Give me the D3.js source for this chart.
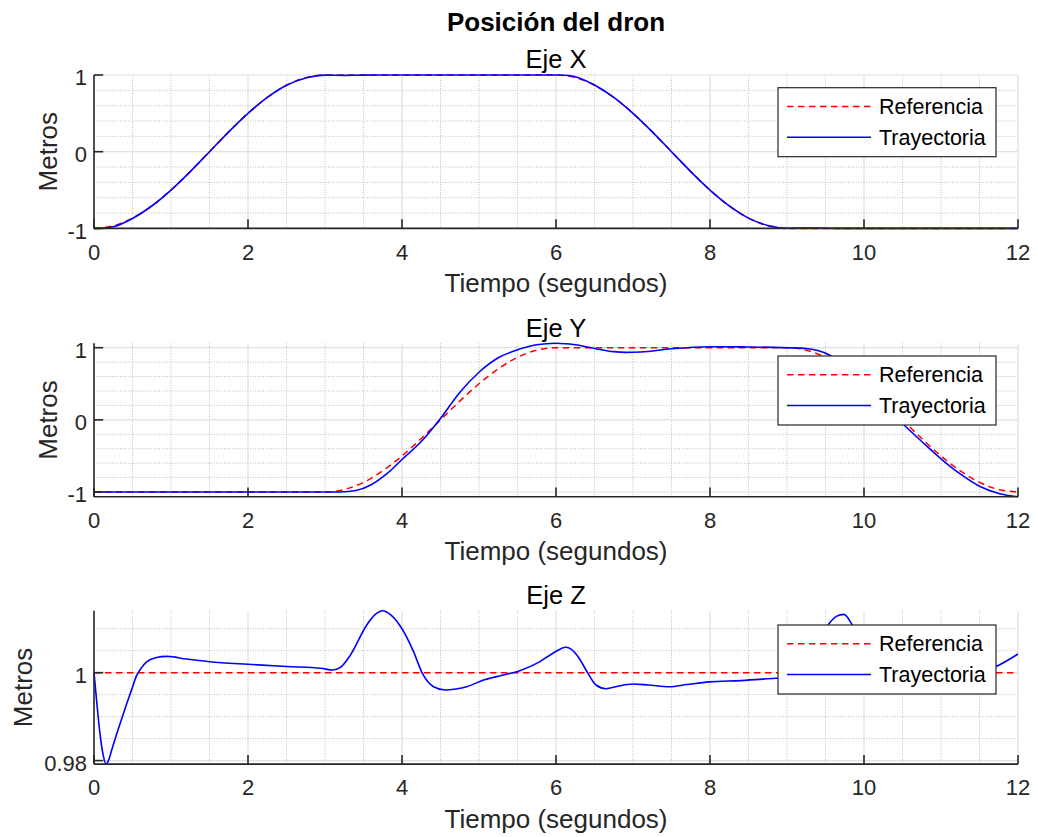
<!DOCTYPE html>
<html><head><meta charset="utf-8">
<script src="https://cdn.jsdelivr.net/npm/d3@7"></script>
<style>body{margin:0;background:#fff}text{font-family:"Liberation Sans",Arial,Helvetica,sans-serif}</style>
</head><body><svg id="c" width="1038" height="837"></svg>
<script>
// ---------- data ----------
const xTicks = [0, 2, 4, 6, 8, 10, 12];
const xTickLabels = ["0", "2", "4", "6", "8", "10", "12"];
const yTicksXY = [-1, 0, 1];
const yTickLabelsXY = ["-1", "0", "1"];
const yTicksZ = [0.98, 1];
const yTickLabelsZ = ["0.98", "1"];
const seriesNames = ["Referencia", "Trayectoria"];

// Eje X
const tRefX = [0,0.25,0.5,0.75,1,1.25,1.5,1.75,2,2.25,2.5,2.75,3,
               6,6.25,6.5,6.75,7,7.25,7.5,7.75,8,8.25,8.5,8.75,9,12];
const refX  = [-1,-0.966,-0.866,-0.707,-0.5,-0.259,0,0.259,0.5,0.707,0.866,0.966,1,
               1,0.966,0.866,0.707,0.5,0.259,0,-0.259,-0.5,-0.707,-0.866,-0.966,-1,-1];
const tTrajX = [0,0.12,0.25,0.5,0.75,1,1.25,1.5,1.75,2,2.25,2.5,2.75,3,3.25,3.5,4,
                6,6.12,6.25,6.5,6.75,7,7.25,7.5,7.75,8,8.25,8.5,8.75,9,9.25,9.5,10,12];
const trajX  = [-1,-0.997,-0.978,-0.87,-0.708,-0.5,-0.259,0,0.259,0.5,0.707,0.866,0.962,0.998,0.995,0.998,1,
                1,0.997,0.978,0.87,0.708,0.5,0.259,0,-0.259,-0.5,-0.707,-0.866,-0.962,-0.998,-0.995,-0.998,-1,-1];

// Eje Y
const tRefY = [0,3,3.25,3.5,3.75,4,4.25,4.5,4.75,5,5.25,5.5,5.75,6,
               9,9.25,9.5,9.75,10,10.25,10.5,10.75,11,11.25,11.5,11.75,12];
const refY  = [-1,-1,-0.966,-0.866,-0.707,-0.5,-0.259,0,0.259,0.5,0.707,0.866,0.966,1,
               1,0.966,0.866,0.707,0.5,0.259,0,-0.259,-0.5,-0.707,-0.866,-0.966,-1];
const tTrajY = [0,3.2,3.4,3.6,3.8,4,4.25,4.5,4.75,5,5.25,5.5,5.75,6,6.25,6.5,6.75,6.9,7.1,7.5,8,8.5,
                9,9.25,9.4,9.55,9.75,10,10.25,10.5,10.75,11,11.25,11.5,11.75,12];
const trajY  = [-1,-1,-0.98,-0.9,-0.75,-0.55,-0.3,0.02,0.38,0.66,0.86,0.97,1.04,1.061,1.04,0.99,0.945,0.935,0.94,0.985,1.013,1.01,
                1.0,0.99,0.96,0.9,0.75,0.5,0.22,-0.05,-0.3,-0.54,-0.75,-0.92,-1.02,-1.065];

// Eje Z
const tRefZ = [0, 12];
const refZ  = [1, 1];
const tTrajZ = [0,0.04,0.08,0.12,0.156,0.19,0.23,0.29,0.36,0.42,0.49,0.55,0.62,0.68,0.8,0.95,1.2,1.5,2,2.5,2.95,3.1,3.2,3.33,3.54,3.65,3.75,3.85,3.97,
                4.15,4.26,4.41,4.56,4.7,4.84,5.06,5.3,5.53,5.78,5.95,6.13,6.2,6.3,6.41,6.52,6.65,6.8,6.99,7.2,7.47,7.7,7.99,
                8.4,8.85,9.1,9.3,9.53,9.64,9.74,9.85,10,10.2,10.4,10.6,10.9,11.3,11.71,12];
const trajZ  = [1.0,0.9925,0.9858,0.9812,0.9792,0.9801,0.9824,0.9858,0.9895,0.9927,0.9962,0.9992,1.0012,1.0024,1.0034,1.0037,1.0031,1.0025,1.0019,1.0014,1.0010,1.0006,1.0012,1.0040,1.0108,1.0132,1.0141,1.0132,1.0108,
                1.0048,1.0,0.9968,0.99607,0.9963,0.9968,0.99834,0.9994,1.00045,1.0024,1.0043,1.0058,1.0053,1.0033,1.0,0.9972,0.99636,0.9969,0.99743,0.9972,0.9968,0.9973,0.9979,
                0.9982,0.99872,0.999,1.003,1.0108,1.0128,1.01327,1.0108,1.006,1.0005,0.9975,0.9968,0.9975,0.9995,1.00136,1.00425];

// ---------- layout ----------
const svg = d3.select("#c");
const L = 94, R = 1018, H = 153.4;
const panels = [
  {title:"Eje X", top:75,    tRef:tRefX, vRef:refX, tTraj:tTrajX, vTraj:trajX, yt:yTicksXY, ytl:yTickLabelsXY,
   minorY:[-0.8,-0.6,-0.4,-0.2,0.2,0.4,0.6,0.8], ylabX:57, legTop:87.7},
  {title:"Eje Y", top:343.3, tRef:tRefY, vRef:refY, tTraj:tTrajY, vTraj:trajY, yt:yTicksXY, ytl:yTickLabelsXY,
   minorY:[-0.8,-0.6,-0.4,-0.2,0.2,0.4,0.6,0.8], ylabX:57, legTop:356},
  {title:"Eje Z", top:610.7, tRef:tRefZ, vRef:refZ, tTraj:tTrajZ, vTraj:trajZ, yt:yTicksZ, ytl:yTickLabelsZ,
   minorY:[0.985,0.99,0.995,1.005,1.01], ylabX:31.7, legTop:625}
];
const axisCol = "#262626";
const xMinor = d3.range(0.5, 12, 0.5).filter(v => v % 2 !== 0);

svg.append("text").attr("x", 556).attr("y", 30.7).attr("text-anchor","middle")
  .attr("font-size", 26).attr("font-weight","bold").attr("fill","#000").text("Posición del dron");

panels.forEach(p => {
  const bottom = p.top + H;
  const x = d3.scaleLinear().domain([0, 12]).range([L, R]);
  const y = d3.scaleLinear().domain(d3.extent(p.vRef.concat(p.vTraj))).range([bottom, p.top]);
  const g = svg.append("g");
  const [y0, y1] = y.domain();

  // minor grid
  g.selectAll(".mx").data(xMinor).join("line")
    .attr("x1", d => x(d)).attr("x2", d => x(d)).attr("y1", p.top).attr("y2", bottom)
    .attr("stroke", "#bfbfbf").attr("stroke-width", 1).attr("stroke-dasharray", "1,1.6");
  g.selectAll(".my").data(p.minorY.filter(v => v > y0 && v < y1)).join("line")
    .attr("x1", L).attr("x2", R).attr("y1", d => y(d)).attr("y2", d => y(d))
    .attr("stroke", "#bfbfbf").attr("stroke-width", 1).attr("stroke-dasharray", "1,1.6");
  // major grid
  g.selectAll(".gx").data(xTicks).join("line")
    .attr("x1", d => x(d)).attr("x2", d => x(d)).attr("y1", p.top).attr("y2", bottom)
    .attr("stroke", "#e0e0e0").attr("stroke-width", 1.2);
  g.selectAll(".gy").data(p.yt).join("line")
    .attr("x1", L).attr("x2", R).attr("y1", d => y(d)).attr("y2", d => y(d))
    .attr("stroke", "#e0e0e0").attr("stroke-width", 1.2);

  // lines
  const line = d3.line().x(d => x(d[0])).y(d => y(d[1])).curve(d3.curveMonotoneX);
  g.append("path").datum(d3.zip(p.tRef, p.vRef)).attr("d", line)
    .attr("fill","none").attr("stroke","#ff0000").attr("stroke-width",1.5).attr("stroke-dasharray","6.5,4.5");
  g.append("path").datum(d3.zip(p.tTraj, p.vTraj)).attr("d", line)
    .attr("fill","none").attr("stroke","#0000ff").attr("stroke-width",1.6);

  // axes
  g.append("line").attr("x1", L).attr("x2", L).attr("y1", p.top).attr("y2", bottom)
    .attr("stroke", axisCol).attr("stroke-width", 1.6);
  g.append("line").attr("x1", L).attr("x2", R).attr("y1", bottom).attr("y2", bottom)
    .attr("stroke", axisCol).attr("stroke-width", 1.6);
  const tl = 9.2;
  g.selectAll(".tx").data(xTicks).join("line")
    .attr("x1", d => x(d)).attr("x2", d => x(d)).attr("y1", bottom).attr("y2", bottom - tl)
    .attr("stroke", axisCol).attr("stroke-width", 1.6);
  g.selectAll(".ty").data(p.yt).join("line")
    .attr("x1", L).attr("x2", L + tl).attr("y1", d => y(d)).attr("y2", d => y(d))
    .attr("stroke", axisCol).attr("stroke-width", 1.6);
  g.selectAll(".txl").data(xTicks).join("text")
    .attr("x", d => x(d)).attr("y", bottom + 31.2).attr("text-anchor","middle")
    .attr("font-size", 22).attr("fill", axisCol).text((d, i) => xTickLabels[i]);
  g.selectAll(".tyl").data(p.yt).join("text")
    .attr("x", 87).attr("y", d => y(d) + 10.4).attr("text-anchor","end")
    .attr("font-size", 22).attr("fill", axisCol).text((d, i) => p.ytl[i]);

  // labels
  g.append("text").attr("x", 556).attr("y", bottom + 63.5).attr("text-anchor","middle")
    .attr("font-size", 26).attr("fill", axisCol).text("Tiempo (segundos)");
  g.append("text").attr("transform", `translate(${p.ylabX},${(p.top + bottom) / 2}) rotate(-90)`)
    .attr("text-anchor","middle").attr("font-size", 26).attr("fill", axisCol).text("Metros");
  g.append("text").attr("x", 556).attr("y", p.top - 6.8).attr("text-anchor","middle")
    .attr("font-size", 25.5).attr("fill", "#000").text(p.title);

  // legend
  const lx = 778, lw = 218, lh = 69, lt = p.legTop;
  g.append("rect").attr("x", lx).attr("y", lt).attr("width", lw).attr("height", lh)
    .attr("fill","#fff").attr("stroke", axisCol).attr("stroke-width", 1.2);
  const rows = [lt + 18.7, lt + 49.5];
  g.append("line").attr("x1", 787).attr("x2", 871).attr("y1", rows[0]).attr("y2", rows[0])
    .attr("stroke","#ff0000").attr("stroke-width",1.5).attr("stroke-dasharray","6.5,4.5");
  g.append("line").attr("x1", 787).attr("x2", 871).attr("y1", rows[1]).attr("y2", rows[1])
    .attr("stroke","#0000ff").attr("stroke-width",1.6);
  seriesNames.forEach((n, i) => {
    g.append("text").attr("x", 879).attr("y", rows[i] + 7.7)
      .attr("font-size", 21.5).attr("fill", "#000").text(n);
  });
});
</script></body></html>
